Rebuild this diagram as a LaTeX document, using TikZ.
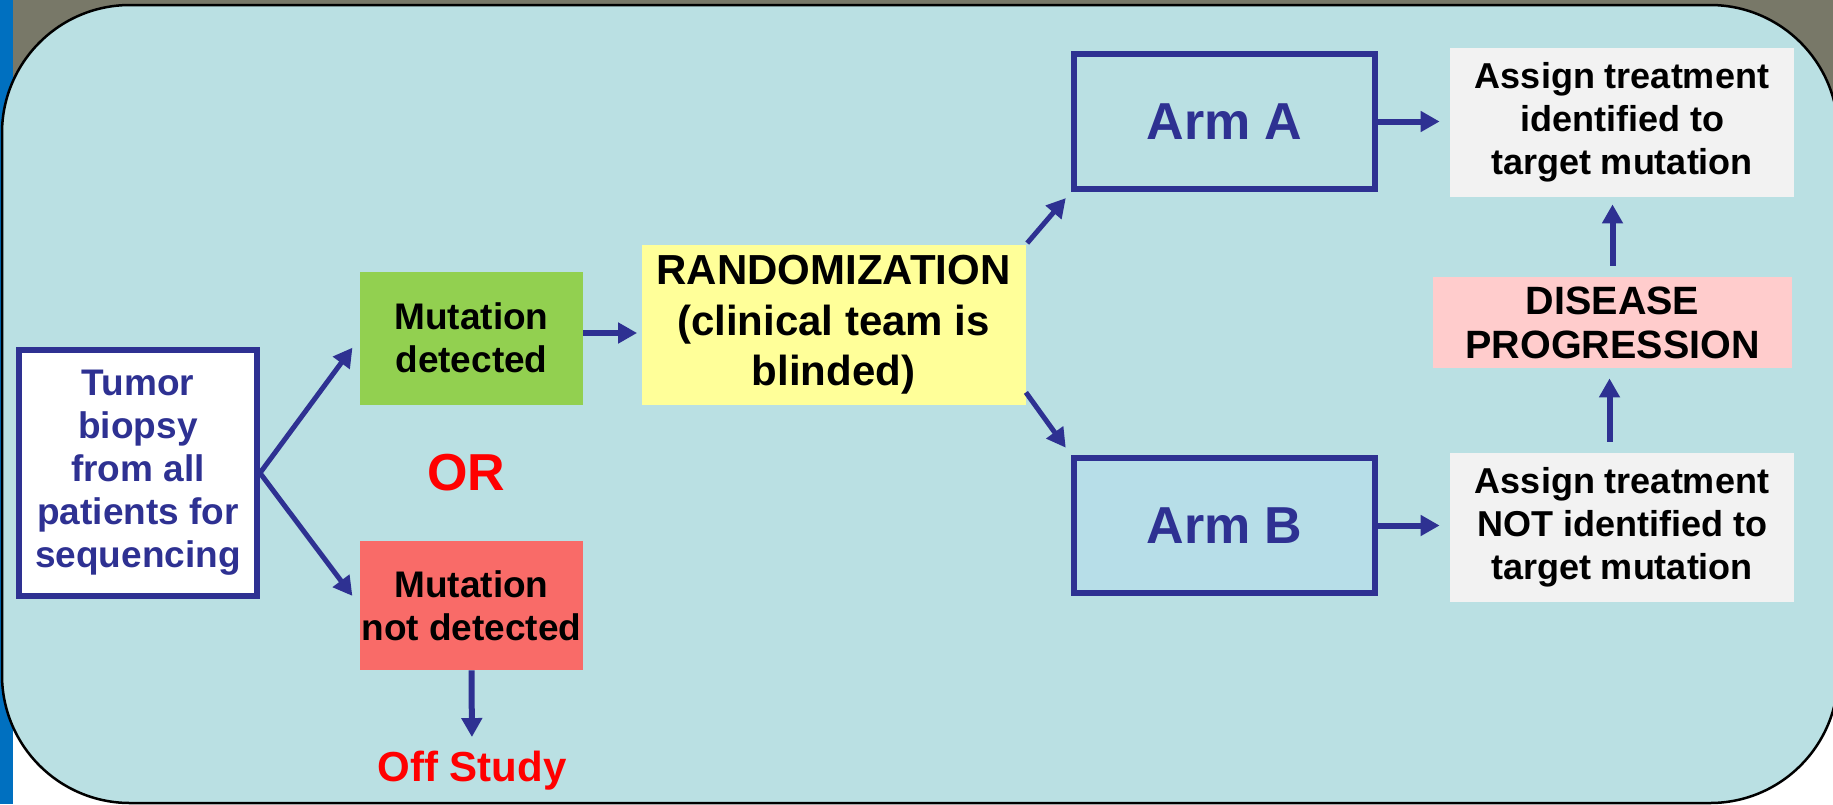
\documentclass[tikz,border=0pt]{standalone}
\usepackage{fontspec}
\setmainfont{Liberation Sans}
\usetikzlibrary{arrows.meta, positioning}
\usepackage{xcolor}

\definecolor{navy}{RGB}{46,49,146}
\definecolor{panel}{RGB}{186,224,227}
\definecolor{header}{RGB}{120,120,104}
\definecolor{sidebar}{RGB}{0,112,192}
\definecolor{found}{RGB}{146,208,80}
\definecolor{notfound}{RGB}{249,107,104}
\definecolor{blind}{RGB}{255,255,153}
\definecolor{progress}{RGB}{255,204,204}
\definecolor{assign}{RGB}{242,242,242}
\definecolor{armfill}{RGB}{183,222,232}

\begin{document}
\begin{tikzpicture}[
    x=1pt, y=-1pt,
    thick,
    flow arrow/.style={draw=navy, line width=6pt, -{Triangle[length=19pt, width=20pt]}},
    fill box/.style={rectangle, inner sep=0pt, align=center, font=\bfseries\fontsize{37}{43}\selectfont},
    arm box/.style={rectangle, draw=navy, line width=6pt, inner sep=0pt, minimum width=301pt, minimum height=135pt, text=navy, font=\bfseries\fontsize{52}{60}\selectfont},
    assign box/.style={fill box, fill=assign, minimum width=344pt, minimum height=149pt, font=\bfseries\fontsize{36}{43}\selectfont},
    red label/.style={text=red, inner sep=2pt, font=\bfseries}
]
    % Page and panel
    \path[use as bounding box] (0,0) rectangle (1833,804);
    \clip (0,0) rectangle (1833,804);
    \fill[header] (0,0) rectangle (1833,400);
    \fill[white] (0,400) rectangle (1833,804);
    \fill[sidebar] (0,0) rectangle (13,804);
    \draw[line width=2.5pt, fill=panel, rounded corners=128pt] (2,5) rectangle (1838,803);

    % Nodes
    \node[fill box, draw=navy, line width=6pt, fill=white, text=navy, minimum width=238pt, minimum height=246pt] (tumor) at (138,473) {Tumor\\biopsy\\from all\\patients for\\sequencing};
    \node[fill box, fill=found, minimum width=223pt, minimum height=133pt] (detected) at (471.5,338) {Mutation\\detected};
    \node[fill box, fill=notfound, minimum width=223pt, minimum height=129pt] (notdet) at (471.5,605.5) {Mutation\\not detected};
    \node[red label, font=\bfseries\fontsize{52}{60}\selectfont] (or) at (466,473) {OR};
    \node[red label, font=\bfseries\fontsize{42}{50}\selectfont] (off) at (472,771) {Off Study};
    \node[fill box, fill=blind, minimum width=384pt, minimum height=160pt, font=\bfseries\fontsize{42}{50.5}\selectfont] (random) at (833.5,325) {RANDOMIZATION\\(clinical team is\\blinded)};
    \node[arm box] (armA) at (1224.5,121.5) {Arm A};
    \node[arm box, fill=armfill] (armB) at (1224.5,525.5) {Arm B};
    \node[assign box] (assignA) at (1622,122.5) {Assign treatment\\identified to\\target mutation};
    \node[fill box, fill=progress, minimum width=359pt, minimum height=91pt, font=\bfseries\fontsize{39.5}{44}\selectfont] (disease) at (1612.5,322.5) {DISEASE\\PROGRESSION};
    \node[assign box] (assignB) at (1622,527.5) {Assign treatment\\NOT identified to\\target mutation};

    % Edges
    \draw[flow arrow, line width=5pt, shorten >=12pt] (tumor.east) -- (detected.west);
    \draw[flow arrow, line width=5pt, shorten >=12pt] (tumor.east) -- (notdet.west);
    \draw[flow arrow, shorten >=4pt] ([yshift=5pt]detected.east) -- ([yshift=5pt]detected.east -| random.west);
    \draw[flow arrow, shorten >=12pt] (notdet.south) -- (off.north);
    \draw[flow arrow, line width=5pt, shorten <=2pt, shorten >=8pt] (random.north east) -- (armA.south west);
    \draw[flow arrow, line width=5pt, shorten >=9pt] ([yshift=13pt]random.south east) -- (armB.north west);
    \draw[flow arrow, shorten >=10pt] (armA.east) -- (armA.east -| assignA.west);
    \draw[flow arrow, shorten >=10pt] (armB.east) -- (armB.east -| assignB.west);
    \draw[flow arrow, shorten <=11pt, shorten >=10pt] ([xshift=-3pt]disease.south |- assignB.north) -- ([xshift=-3pt]disease.south);
    \draw[flow arrow, shorten <=11pt, shorten >=7pt] (disease.north) -- (disease.north |- assignA.south);
\end{tikzpicture}
\end{document}
